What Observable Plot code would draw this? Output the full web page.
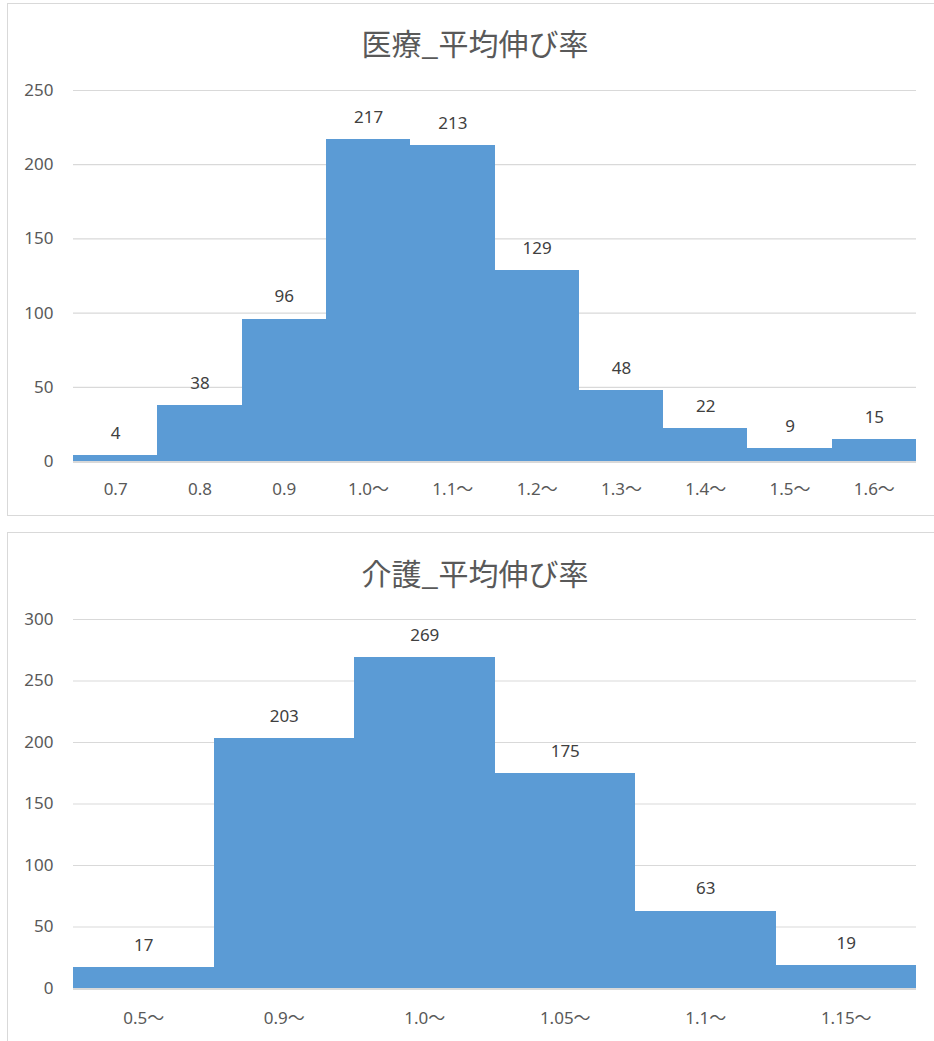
<!DOCTYPE html>
<html>
<head>
<meta charset="utf-8">
<script src="https://cdn.jsdelivr.net/npm/d3@7"></script>
<script src="https://cdn.jsdelivr.net/npm/@observablehq/plot@0.6"></script>
<style>
  html, body { margin: 0; padding: 0; background: #fff; }
  body { position: relative; width: 934px; height: 1041px; overflow: hidden; font-family: "Noto Sans", "Noto Sans CJK JP", sans-serif; }
  .frame { position: absolute; left: 7px; width: 944px; border: 1px solid #d9d9d9; box-sizing: border-box; }
  .title { position: absolute; left: 0; width: 950px; text-align: center; font-family: "Noto Sans CJK JP", sans-serif; font-size: 30px; color: #595959; line-height: 1; }
  .chart { position: absolute; left: 0; }
</style>
</head>
<body>
<div class="frame" style="top:3px;height:513px;"></div>
<div class="frame" style="top:532px;height:540px;"></div>
<div class="title" style="top:27px;">医療_平均伸び率</div>
<div class="title" style="top:557px;">介護_平均伸び率</div>
<div class="chart" id="med" style="top:60px;"></div>
<div class="chart" id="care" style="top:589px;"></div>
<script>
// 医療: 平均伸び率の階級と件数
const medClasses = ["0.7", "0.8", "0.9", "1.0～", "1.1～", "1.2～", "1.3～", "1.4～", "1.5～", "1.6～"];
const medCounts = [4, 38, 96, 217, 213, 129, 48, 22, 9, 15];
const medTicks = [0, 50, 100, 150, 200, 250];

// 介護: 平均伸び率の階級と件数
const careClasses = ["0.5～", "0.9～", "1.0～", "1.05～", "1.1～", "1.15～"];
const careCounts = [17, 203, 269, 175, 63, 19];
const careTicks = [0, 50, 100, 150, 200, 250, 300];

const barColor = "#5B9BD5";
const gridColor = "#d9d9d9";

function histogram(classes, counts, ticks, height, xPad) {
  const rows = classes.map((c, i) => ({cls: c, n: counts[i]}));
  return Plot.plot({
    width: 934,
    height: height,
    marginLeft: 73,
    marginRight: 18,
    marginTop: 30,
    marginBottom: 50,
    style: {fontFamily: "'Noto Sans', 'Noto Sans CJK JP', sans-serif", fontSize: "17px", color: "#595959", background: "transparent"},
    x: {domain: classes, padding: 0, round: false, label: null},
    y: {domain: [0, d3.max(ticks)], ticks: ticks, label: null},
    marks: [
      Plot.ruleY(ticks, {stroke: gridColor, strokeWidth: 1.2}),
      // adjacent bars touch; crisp edges keep the joins seamless
      Plot.barY(rows, {x: "cls", y: "n", fill: barColor, inset: 0, shapeRendering: "crispEdges"}),
      Plot.ruleY([0], {stroke: gridColor, strokeWidth: 1.2, dy: 1}),
      Plot.text(rows, {x: "cls", y: "n", text: d => String(d.n), dy: -22, fill: "#404040", fontSize: 17}),
      Plot.axisY({ticks: ticks, tickSize: 0, tickPadding: 20, fontSize: 17, fill: "#595959", label: null}),
      Plot.axisX({tickSize: 0, tickPadding: xPad, fontSize: 17, fill: "#595959", label: null})
    ]
  });
}

document.getElementById("med").append(histogram(medClasses, medCounts, medTicks, 451, 21));
document.getElementById("care").append(histogram(careClasses, careCounts, careTicks, 449, 23));
</script>
</body>
</html>
